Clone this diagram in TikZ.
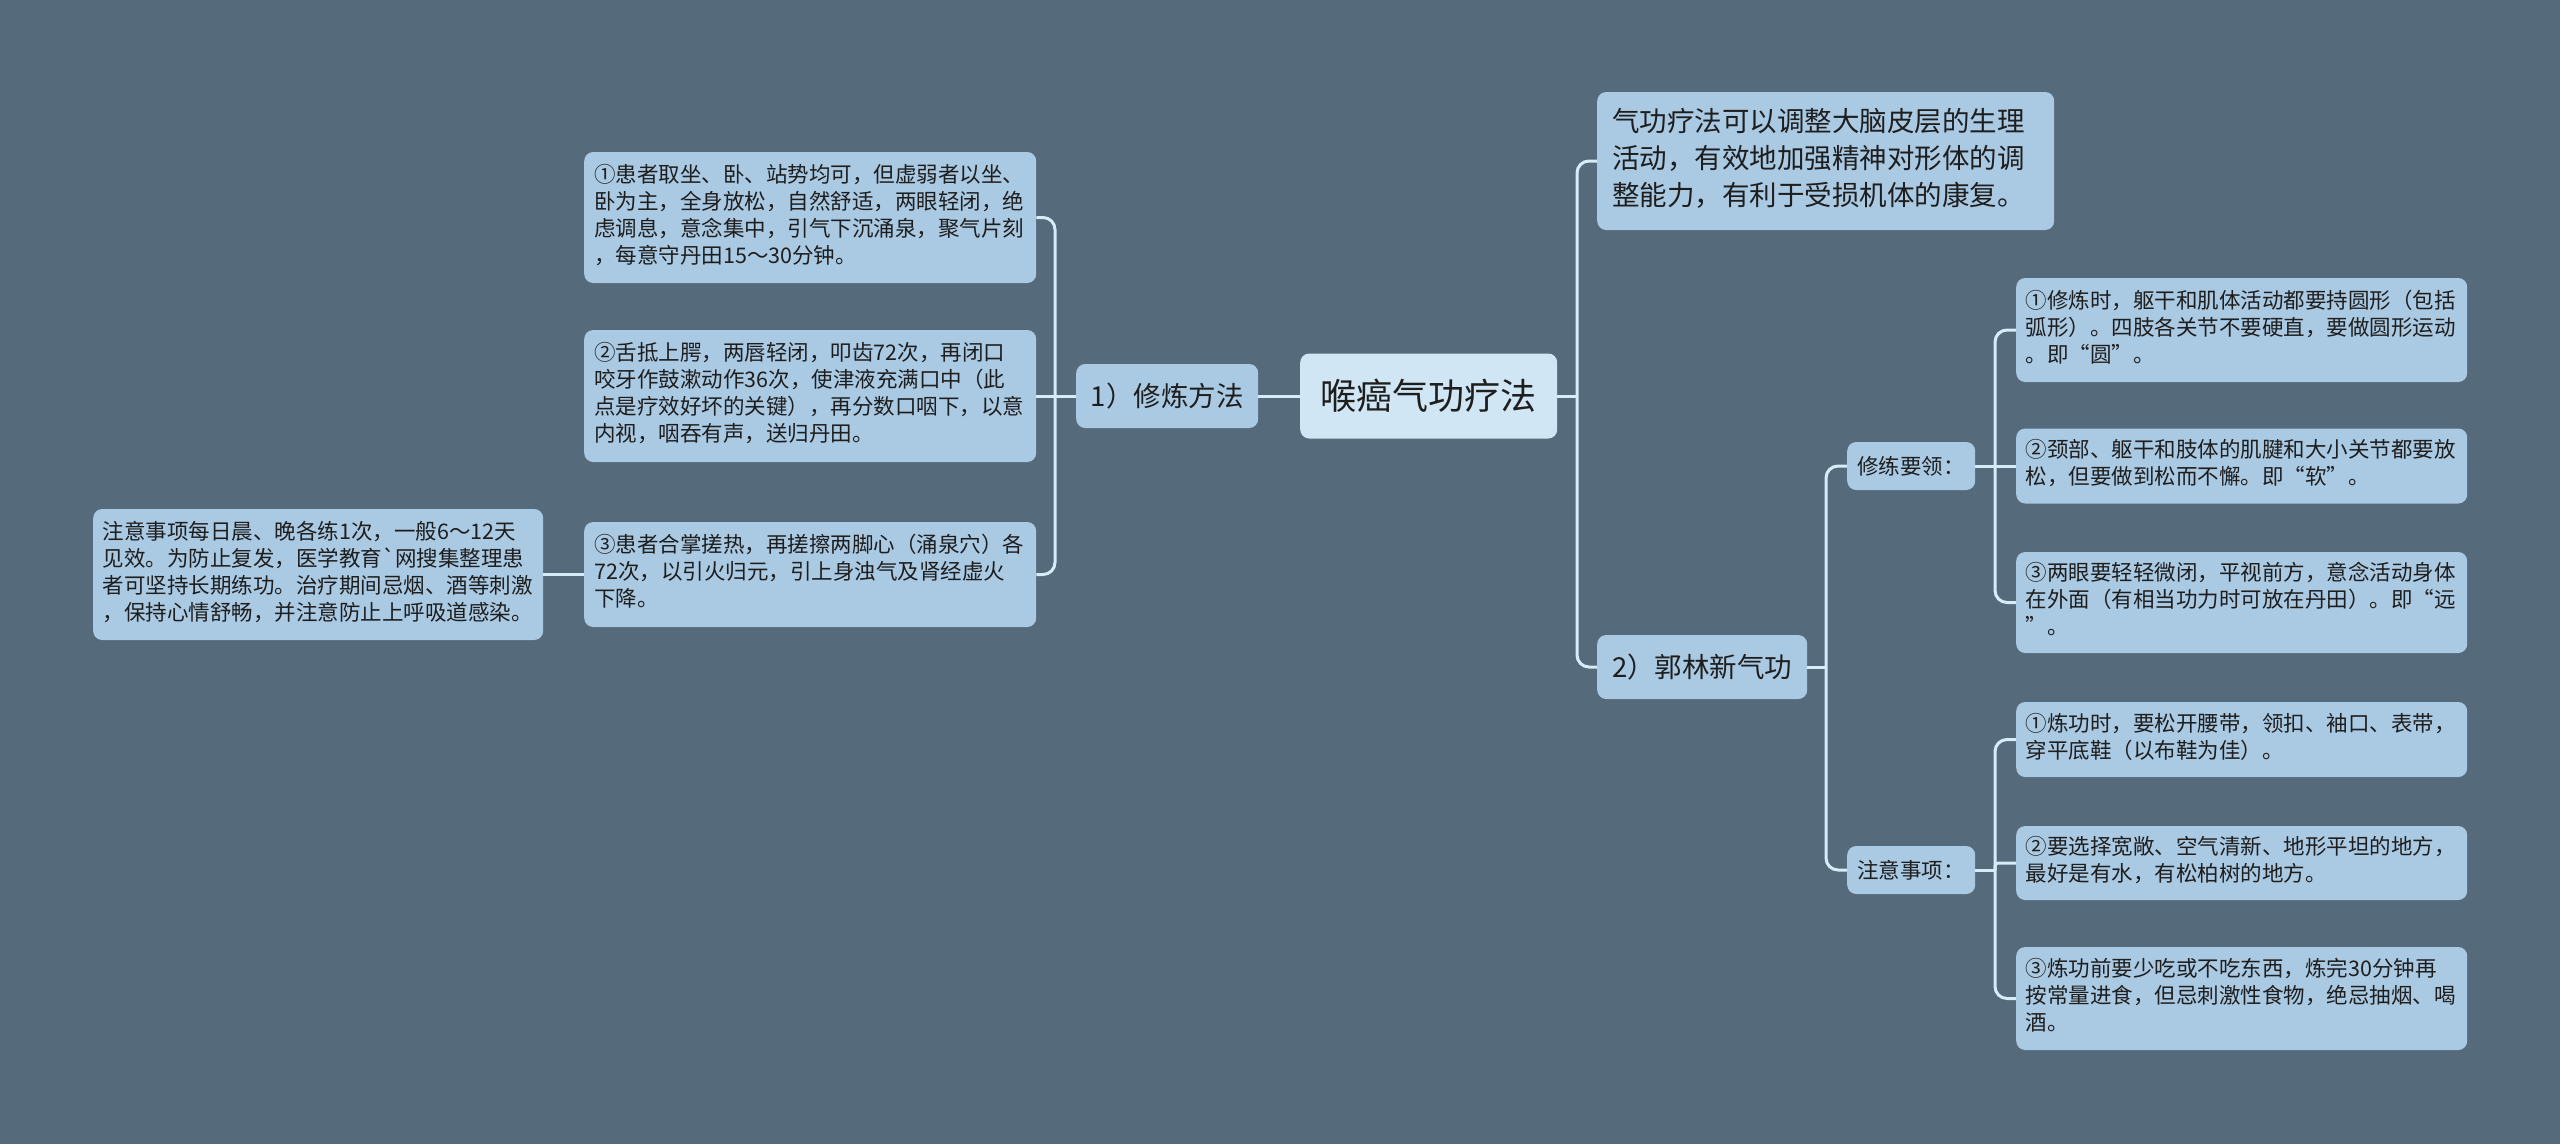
\documentclass[tikz,border=0pt]{standalone}
\usepackage{fontspec}
\newfontfamily\cjk{Noto Sans CJK SC}
\definecolor{bg}{HTML}{556A7A}
\definecolor{boxc}{HTML}{AAC9E2}
\definecolor{rootc}{HTML}{D0E6F4}
\definecolor{linec}{HTML}{D6ECF8}
\definecolor{txt}{HTML}{1E1E1E}
\begin{document}
\begin{tikzpicture}[x=1pt,y=-1pt,
  textbox/.style={fill=boxc, rounded corners=9pt, text=txt, anchor=west,
    font=\cjk\fontsize{21.5}{27}\selectfont, align=left, inner ysep=0pt,
    inner xsep=10pt, text width=432pt,
    execute at begin node=\strut, execute at end node=\strut},
  rbox/.style={textbox, inner xsep=9.5pt},
  bigbox/.style={textbox, font=\cjk\fontsize{27.5}{36.7}\selectfont,
    inner xsep=15pt, text width=427pt},
  tagbox/.style={fill=boxc, rounded corners=9pt, text=txt, anchor=west,
    align=center, inner sep=0pt},
  conn/.style={draw=linec, line width=3pt},
  connr/.style={conn, rounded corners=12pt}
]
\fill[bg] (0,0) rectangle (2560,1144);
\useasboundingbox (0,0) rectangle (2560,1144);

% root and first level
\node[tagbox, fill=rootc, font=\cjk\fontsize{36}{42}\selectfont,
  minimum width=257pt, minimum height=85pt] (root) at (1300,396) {喉癌气功疗法};
\node[tagbox, font=\cjk\fontsize{27.5}{32}\selectfont,
  minimum width=182pt, minimum height=64pt] (L1) at (1076,396) {1）修炼方法};
\node[tagbox, font=\cjk\fontsize{27.5}{32}\selectfont,
  minimum width=210pt, minimum height=64pt] (L2) at (1597,667) {2）郭林新气功};

% left children
\node[textbox, minimum height=131pt] (B1) at (584,217.5) {①患者取坐、卧、站势均可，但虚弱者以坐、\\卧为主，全身放松，自然舒适，两眼轻闭，绝\\虑调息，意念集中，引气下沉涌泉，聚气片刻\\，每意守丹田15～30分钟。};
\node[textbox, minimum height=132pt] (B2) at (584,396) {②舌抵上腭，两唇轻闭，叩齿72次，再闭口\\咬牙作鼓漱动作36次，使津液充满口中（此\\点是疗效好坏的关键），再分数口咽下，以意\\内视，咽吞有声，送归丹田。};
\node[textbox, minimum height=105pt] (B3) at (584,574.5) {③患者合掌搓热，再搓擦两脚心（涌泉穴）各\\72次，以引火归元，引上身浊气及肾经虚火\\下降。};
\node[textbox, minimum height=131pt, text width=431pt, inner xsep=9.5pt] (Note) at (93,574.5) {注意事项每日晨、晚各练1次，一般6～12天\\见效。为防止复发，医学教育`网搜集整理患\\者可坚持长期练功。治疗期间忌烟、酒等刺激\\，保持心情舒畅，并注意防止上呼吸道感染。};

% right side
\node[bigbox, minimum height=138pt] (T) at (1597,161) {气功疗法可以调整大脑皮层的生理\\活动，有效地加强精神对形体的调\\整能力，有利于受损机体的康复。};
\node[tagbox, font=\cjk\fontsize{21.5}{26}\selectfont,
  minimum width=128pt, minimum height=48pt] (K1) at (1847,466) {修练要领：};
\node[tagbox, font=\cjk\fontsize{21.5}{26}\selectfont,
  minimum width=128pt, minimum height=48pt] (K2) at (1847,870) {注意事项：};

\node[rbox, minimum height=104pt] (R1) at (2016,330) {①修炼时，躯干和肌体活动都要持圆形（包括\\弧形）。四肢各关节不要硬直，要做圆形运动\\。即“圆”。};
\node[rbox, minimum height=75pt] (R2) at (2016,466) {②颈部、躯干和肢体的肌腱和大小关节都要放\\松，但要做到松而不懈。即“软”。};
\node[rbox, minimum height=101pt] (R3) at (2016,602.5) {③两眼要轻轻微闭，平视前方，意念活动身体\\在外面（有相当功力时可放在丹田）。即“远\\”。};
\node[rbox, minimum height=75pt] (N1) at (2016,739.5) {①炼功时，要松开腰带，领扣、袖口、表带，\\穿平底鞋（以布鞋为佳）。};
\node[rbox, minimum height=74pt] (N2) at (2016,863) {②要选择宽敞、空气清新、地形平坦的地方，\\最好是有水，有松柏树的地方。};
\node[rbox, minimum height=103pt] (N3) at (2016,998.5) {③炼功前要少吃或不吃东西，炼完30分钟再\\按常量进食，但忌刺激性食物，绝忌抽烟、喝\\酒。};

% connectors
\coordinate (j1) at (1055,396);
\coordinate (j2) at (1577,396);
\coordinate (j3) at (1826,667);
\coordinate (j4) at (1995,466);
\coordinate (j5) at (1995,870);

\draw[conn] (root.west) -- (L1.east);
\draw[conn] (L1.west) -- (j1);
\draw[connr] (j1) |- (B1.east);
\draw[conn] (j1) -- (B2.east);
\draw[connr] (j1) |- (B3.east);
\draw[conn] (B3.west) -- (Note.east);

\draw[conn] (root.east) -- (j2);
\draw[connr] (j2) |- (T.west);
\draw[connr] (j2) |- (L2.west);

\draw[conn] (L2.east) -- (j3);
\draw[connr] (j3) |- (K1.west);
\draw[connr] (j3) |- (K2.west);

\draw[conn] (K1.east) -- (j4);
\draw[connr] (j4) |- (R1.west);
\draw[conn] (j4) -- (R2.west);
\draw[connr] (j4) |- (R3.west);

\draw[conn] (K2.east) -- (j5);
\draw[connr] (j5) |- (N1.west);
\draw[conn, rounded corners=3pt] (j5) |- (N2.west);
\draw[connr] (j5) |- (N3.west);
\end{tikzpicture}
\end{document}
